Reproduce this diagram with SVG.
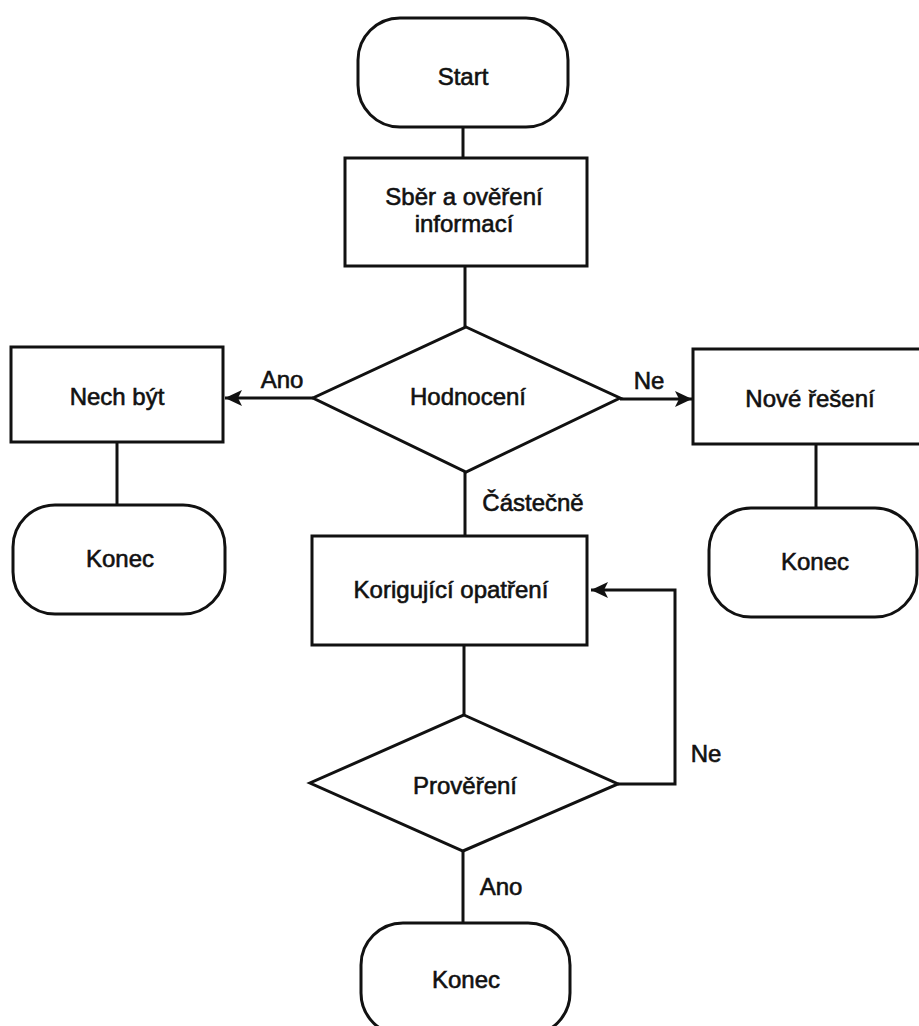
<svg xmlns="http://www.w3.org/2000/svg" width="919" height="1026" viewBox="0 0 919 1026">
<style>
.s{fill:#fff;stroke:#111;stroke-width:3}
.t{font-family:"Liberation Sans",Arial,sans-serif;font-size:24px;fill:#111;text-anchor:middle;stroke:#111;stroke-width:0.6}
.c{fill:none;stroke:#111;stroke-width:3}
</style>
<defs>
<marker id="ah" markerUnits="userSpaceOnUse" markerWidth="18" markerHeight="18" viewBox="0 0 18 18" refX="17" refY="9" orient="auto">
<path d="M0,1 L17,9 L0,17 L4,9 Z" fill="#111"/>
</marker>
</defs>
<rect width="919" height="1026" fill="#fff"/>
<g id="connectors">
<line class="c" x1="463" y1="127" x2="463" y2="158"/>
<line class="c" x1="465" y1="266" x2="465" y2="327"/>
<line class="c" x1="313" y1="398" x2="225" y2="398" marker-end="url(#ah)"/>
<line class="c" x1="620" y1="399" x2="692" y2="399" marker-end="url(#ah)"/>
<line class="c" x1="117" y1="442" x2="117" y2="505"/>
<line class="c" x1="816" y1="444" x2="816" y2="508"/>
<line class="c" x1="465" y1="472" x2="465" y2="536"/>
<line class="c" x1="464" y1="645" x2="464" y2="715"/>
<polyline class="c" points="618,784 675,784 675,590 591,590" marker-end="url(#ah)"/>
<line class="c" x1="463" y1="851" x2="463" y2="923"/>
<text class="t" x="282" y="388">Ano</text>
<text class="t" x="649" y="389">Ne</text>
<text class="t" x="533" y="511">Částečně</text>
<text class="t" x="706" y="762">Ne</text>
<text class="t" x="501" y="895">Ano</text>
</g>
<g id="start">
<rect class="s" x="358" y="18" width="210" height="109" rx="42"/>
<text class="t" x="463" y="85">Start</text>
</g>
<g id="sber">
<rect class="s" x="345" y="158" width="242" height="108"/>
<text class="t" x="464" y="205">Sběr a ověření</text>
<text class="t" x="464" y="232">informací</text>
</g>
<g id="hodnoceni">
<polygon class="s" points="466,327 620,398 466,472 313,398"/>
<text class="t" x="468" y="405">Hodnocení</text>
</g>
<g id="nech">
<rect class="s" x="11" y="347" width="212" height="95"/>
<text class="t" x="117" y="405">Nech být</text>
</g>
<g id="konec1">
<rect class="s" x="13" y="505" width="212" height="109" rx="42"/>
<text class="t" x="120" y="567">Konec</text>
</g>
<g id="nove">
<rect class="s" x="693" y="349" width="232" height="95"/>
<text class="t" x="810" y="407">Nové řešení</text>
</g>
<g id="konec2">
<rect class="s" x="709" y="508" width="208" height="109" rx="42"/>
<text class="t" x="815" y="570">Konec</text>
</g>
<g id="korigujici">
<rect class="s" x="312" y="536" width="275" height="109"/>
<text class="t" x="451" y="598">Korigující opatření</text>
</g>
<g id="provereni">
<polygon class="s" points="464,715 618,784 463,851 310,783"/>
<text class="t" x="465" y="794">Prověření</text>
</g>
<g id="konec3">
<rect class="s" x="361" y="923" width="209" height="112" rx="42"/>
<text class="t" x="466" y="988">Konec</text>
</g>
</svg>
